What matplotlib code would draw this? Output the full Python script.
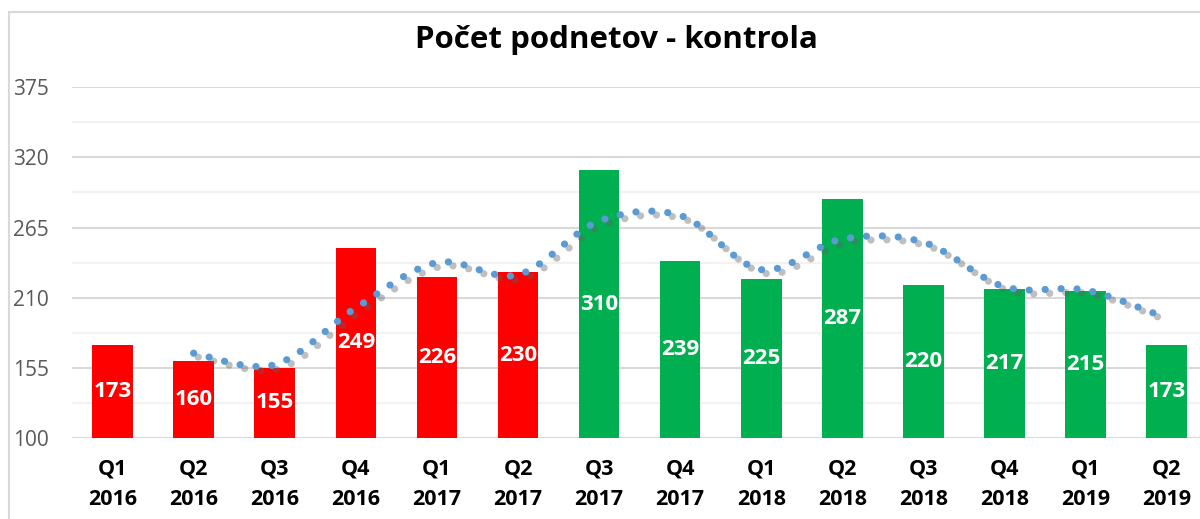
import numpy as np
import matplotlib
matplotlib.use("Agg")
import matplotlib.pyplot as plt
import matplotlib.patheffects as pe
from matplotlib.path import Path
from matplotlib.patches import PathPatch, Rectangle

plt.rcParams['font.family'] = ['Open Sans', 'DejaVu Sans']

quarters = ["Q1", "Q2", "Q3", "Q4", "Q1", "Q2", "Q3", "Q4", "Q1", "Q2", "Q3", "Q4", "Q1", "Q2"]
years = ["2016", "2016", "2016", "2016", "2017", "2017", "2017", "2017",
         "2018", "2018", "2018", "2018", "2019", "2019"]
values = [173, 160, 155, 249, 226, 230, 310, 239, 225, 287, 220, 217, 215, 173]
n_red = 6  # first six bars in red, the rest green

RED = "#FF0000"
GREEN = "#00B050"
BLUE = "#5B9BD5"

fig = plt.figure(figsize=(12, 5.19), dpi=100)
ax = fig.add_axes([0.06, 0.156, 0.946, 0.676])

x = np.arange(len(values))
colors = [RED if i < n_red else GREEN for i in range(len(values))]
ax.bar(x, values, width=0.5, color=colors, zorder=2)

# value labels inside the bars
for xi, v in zip(x, values):
    ax.text(xi, (100 + v) / 2, str(v), ha="center", va="center",
            color="white", fontsize=16, fontweight="bold", zorder=3)

# 2-period moving average trend line, smoothed like Excel
ma = [(values[i - 1] + values[i]) / 2 for i in range(1, len(values))]
mx = x[1:].astype(float)
pts = np.column_stack([mx, ma])
verts = [tuple(pts[0])]
codes = [Path.MOVETO]
for i in range(len(pts) - 1):
    p0 = pts[i - 1] if i > 0 else pts[i]
    p1 = pts[i]
    p2 = pts[i + 1]
    p3 = pts[i + 2] if i + 2 < len(pts) else pts[i + 1]
    c1 = p1 + (p2 - p0) / 6
    c2 = p2 - (p3 - p1) / 6
    verts += [tuple(c1), tuple(c2), tuple(p2)]
    codes += [Path.CURVE4] * 3
trend = PathPatch(Path(verts, codes), facecolor="none", edgecolor=BLUE,
                  linewidth=5.2, linestyle=(0, (0.01, 2.2)), capstyle="round",
                  zorder=4)
trend.set_path_effects([pe.SimpleLineShadow(offset=(3.3, -2.8), shadow_color="#606060", alpha=0.4),
                        pe.Normal()])
ax.add_patch(trend)

ax.set_ylim(100, 375)
ax.set_yticks([100, 155, 210, 265, 320, 375])
ax.set_yticks([127.5, 182.5, 237.5, 292.5, 347.5], minor=True)
ax.set_xlim(-0.5, 13.5)
ax.set_xticks(x)
ax.set_xticklabels([f"{q}\n{y}" for q, y in zip(quarters, years)],
                   fontsize=15.5, fontweight="bold", color="black", linespacing=1.55)

ax.grid(axis="y", which="major", color="#D9D9D9", linewidth=1.5, zorder=0)
ax.grid(axis="y", which="minor", color="#F2F2F2", linewidth=1.5, zorder=0)
ax.set_axisbelow(True)
for s in ax.spines.values():
    s.set_visible(False)
ax.tick_params(axis="y", which="both", length=0, labelsize=15, labelcolor="#595959", pad=42.5)
ax.tick_params(axis="x", length=0, pad=15)
for lbl in ax.get_yticklabels():
    lbl.set_horizontalalignment("left")

fig.text(0.514, 0.923, "Počet podnetov - kontrola", ha="center", va="center",
         fontsize=22.5, fontweight="bold", color="black")

# chart area border (cut by the image edges)
fig.patches.append(Rectangle((9 / 1200, -0.1), 1.2, 1 - 12 / 519 + 0.1,
                             transform=fig.transFigure, fill=False,
                             edgecolor="#D9D9D9", linewidth=1.5))

fig.savefig("out.png", dpi=100)
